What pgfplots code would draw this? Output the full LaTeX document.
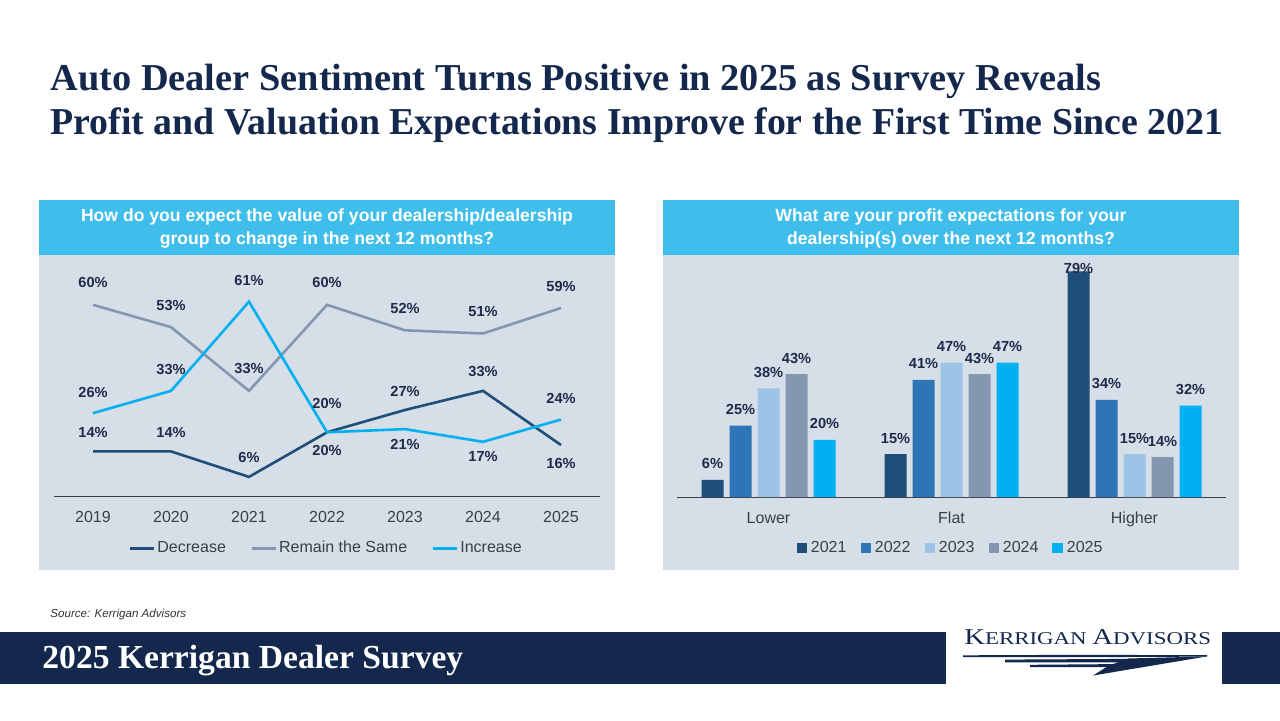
\documentclass[border=0pt]{standalone}
\usepackage{fontspec}
\setmainfont{Liberation Sans}
\newfontfamily\titlefont{Liberation Serif}
\usepackage{pgfplots}
\pgfplotsset{compat=1.18}
\definecolor{navy}{HTML}{13284C}
\definecolor{hdr}{HTML}{3FBDEB}
\definecolor{panel}{HTML}{D6DEE7}
\definecolor{cdec}{HTML}{1F4E79}
\definecolor{csame}{HTML}{8497B0}
\definecolor{cinc}{HTML}{00B0F0}
\definecolor{c22}{HTML}{2E75B6}
\definecolor{c23}{HTML}{9DC3E6}
\definecolor{lbl}{HTML}{1E2B4A}
\definecolor{tickc}{HTML}{3A3F4A}
\pgfplotsset{
  pct/.style={nodes near coords={\pgfmathprintnumber[assume math mode=true]{\pgfplotspointmeta}\%},
    every node near coord/.append style={font=\bfseries\fontsize{7.3}{8}\selectfont, text=lbl, anchor=center}},
}
\begin{document}
\begin{tikzpicture}[x=0.5pt,y=-0.5pt]
\fill[white] (0,0) rectangle (1280,720);
% title
\node[anchor=base west, inner sep=0, text=navy, font=\titlefont\bfseries\fontsize{19}{22}\selectfont] at (50,90) {\scalebox{1.01}[1]{Auto Dealer Sentiment Turns Positive in 2025 as Survey Reveals}};
\node[anchor=base west, inner sep=0, text=navy, font=\titlefont\bfseries\fontsize{19}{22}\selectfont] at (50,134) {\scalebox{0.995}[1]{Profit and Valuation Expectations Improve for the First Time Since 2021}};
% panels
\fill[panel] (39,255) rectangle (615,570);
\fill[hdr] (39,200) rectangle (615,255);
\node[align=center, text=white, font=\bfseries\fontsize{8.8}{11.5}\selectfont] at (327,228) {How do you expect the value of your dealership/dealership\\group to change in the next 12 months?};
\fill[panel] (663,255) rectangle (1239,570);
\fill[hdr] (663,200) rectangle (1239,255);
\node[align=center, text=white, font=\bfseries\fontsize{8.8}{11.5}\selectfont] at (951,228) {What are your profit expectations for your\\dealership(s) over the next 12 months?};
% source
\node[anchor=base west, inner sep=0, text=black!80, font=\itshape\fontsize{5.8}{7}\selectfont] at (50,617) {Source: Kerrigan Advisors};
% footer
\fill[navy] (0,632) rectangle (946,684);
\fill[navy] (1222,632) rectangle (1280,684);
\node[anchor=base west, inner sep=0, text=white, font=\titlefont\bfseries\fontsize{16.8}{20}\selectfont] at (42,668) {2025 Kerrigan Dealer Survey};
\node[anchor=base west, inner sep=0, text=navy, font=\titlefont] at (964,644) {\scalebox{1.27}[1]{{\fontsize{11.3}{12}\selectfont K}{\fontsize{9}{10}\selectfont ERRIGAN }{\fontsize{11.3}{12}\selectfont A}{\fontsize{9}{10}\selectfont DVISORS}}};
\fill[navy] (963,655.3) -- (1080,654.8) -- (1207,655.2) -- (1207,656.6) -- (1080,657.2) -- (963,657) -- cycle;
\fill[navy] (1005,659.6) -- (1140,658.8) -- (1140,662.3) -- (1005,662.4) -- cycle;
\fill[navy] (1030,664.8) -- (1126,664) -- (1126,667) -- (1030,667) -- cycle;
\fill[navy] (1128,658.5) -- (1207,656.4) -- (1093,675.5) -- (1108,666) -- cycle;
% left chart
\begin{axis}[at={(27pt,-248pt)}, anchor=south west, scale only axis, width=273pt, height=119.5pt,
  xmin=-0.5, xmax=6.5, ymin=0, ymax=75, clip=false,
  axis y line=none, axis x line*=bottom, x axis line style={-, draw=tickc, line width=0.5pt},
  xtick={0,...,6}, xticklabels={2019,2020,2021,2022,2023,2024,2025}, major tick length=0,
  xticklabel style={font=\fontsize{8}{9}\selectfont, text=tickc, yshift=-4pt},
  legend style={at={(0.5,-0.218)}, anchor=center, draw=none, fill=none, legend columns=-1,
    font=\fontsize{8}{9}\selectfont, text=tickc, /tikz/every even column/.append style={column sep=10pt},
    /tikz/every odd column/.append style={column sep=-1pt}},
  legend image code/.code={\draw[#1,line width=1.6pt] (0pt,0pt) -- (12pt,0pt);},
]
\addplot[cdec, line width=1.3pt, mark=none] coordinates {(0,14)(1,14)(2,6)(3,20)(4,27)(5,33)(6,16)};
\addlegendentry{Decrease}
\addplot[csame, line width=1.3pt, mark=none] coordinates {(0,60)(1,53)(2,33)(3,60)(4,52)(5,51)(6,59)};
\addlegendentry{Remain the Same}
\addplot[cinc, line width=1.3pt, mark=none] coordinates {(0,26)(1,33)(2,61)(3,20)(4,21)(5,17)(6,24)};
\addlegendentry{Increase}
% labels
\addplot[draw=none, mark=none, forget plot, pct, every node near coord/.append style={yshift=9.5pt}] coordinates {(0,14)(1,14)(2,6)(4,27)(5,33)};
\addplot[draw=none, mark=none, forget plot, pct, every node near coord/.append style={yshift=14.5pt}] coordinates {(3,20)};
\addplot[draw=none, mark=none, forget plot, pct, every node near coord/.append style={yshift=-9pt}] coordinates {(6,16)};
\addplot[draw=none, mark=none, forget plot, pct, every node near coord/.append style={yshift=11pt}] coordinates {(0,60)(1,53)(2,33)(3,60)(4,52)(5,51)(6,59)};
\addplot[draw=none, mark=none, forget plot, pct, every node near coord/.append style={yshift=10.5pt}] coordinates {(0,26)(1,33)(2,61)(6,24)};
\addplot[draw=none, mark=none, forget plot, pct, every node near coord/.append style={yshift=-9pt}] coordinates {(3,20)};
\addplot[draw=none, mark=none, forget plot, pct, every node near coord/.append style={yshift=-7.5pt}] coordinates {(4,21)(5,17)};
\end{axis}
% right chart
\begin{axis}[at={(338.5pt,-248.5pt)}, anchor=south west, scale only axis, width=274.5pt, height=120pt,
  xmin=-0.5, xmax=2.5, ymin=0, ymax=84, clip=false,
  axis y line=none, axis x line*=bottom, x axis line style={-, draw=tickc, line width=0.5pt},
  xtick={0,1,2}, xticklabels={Lower,Flat,Higher}, major tick length=0,
  xticklabel style={font=\fontsize{8}{9}\selectfont, text=tickc, yshift=-4pt},
  legend style={at={(0.5,-0.2125)}, anchor=center, draw=none, fill=none, legend columns=-1,
    font=\fontsize{8}{9}\selectfont, text=tickc, /tikz/every even column/.append style={column sep=5pt}},
  legend image code/.code={\fill[#1] (0pt,-2.6pt) rectangle (5.2pt,2.6pt);},
]
\addplot[ybar, bar width=11pt, bar shift=-28pt, fill=cdec, draw=none] coordinates {(0,6)(1,15)(2,79)};
\addlegendentry{2021}
\addplot[ybar, bar width=11pt, bar shift=-14pt, fill=c22, draw=none] coordinates {(0,25)(1,41)(2,34)};
\addlegendentry{2022}
\addplot[ybar, bar width=11pt, bar shift=0pt, fill=c23, draw=none] coordinates {(0,38)(1,47)(2,15)};
\addlegendentry{2023}
\addplot[ybar, bar width=11pt, bar shift=14pt, fill=csame, draw=none] coordinates {(0,43)(1,43)(2,14)};
\addlegendentry{2024}
\addplot[ybar, bar width=11pt, bar shift=28pt, fill=cinc, draw=none] coordinates {(0,20)(1,47)(2,32)};
\addlegendentry{2025}
% bar labels
\addplot[draw=none, mark=none, forget plot, pct, every node near coord/.append style={xshift=-28pt, yshift=8pt}] coordinates {(0,6)(1,15)};
\addplot[draw=none, mark=none, forget plot, pct, every node near coord/.append style={xshift=-28pt, yshift=1.5pt}] coordinates {(2,79)};
\addplot[draw=none, mark=none, forget plot, pct, every node near coord/.append style={xshift=-14pt, yshift=8pt}] coordinates {(0,25)(1,41)(2,34)};
\addplot[draw=none, mark=none, forget plot, pct, every node near coord/.append style={xshift=0pt, yshift=8pt}] coordinates {(0,38)(1,47)(2,15)};
\addplot[draw=none, mark=none, forget plot, pct, every node near coord/.append style={xshift=14pt, yshift=8pt}] coordinates {(0,43)(1,43)(2,14)};
\addplot[draw=none, mark=none, forget plot, pct, every node near coord/.append style={xshift=28pt, yshift=8pt}] coordinates {(0,20)(1,47)(2,32)};
\end{axis}
\end{tikzpicture}
\end{document}
